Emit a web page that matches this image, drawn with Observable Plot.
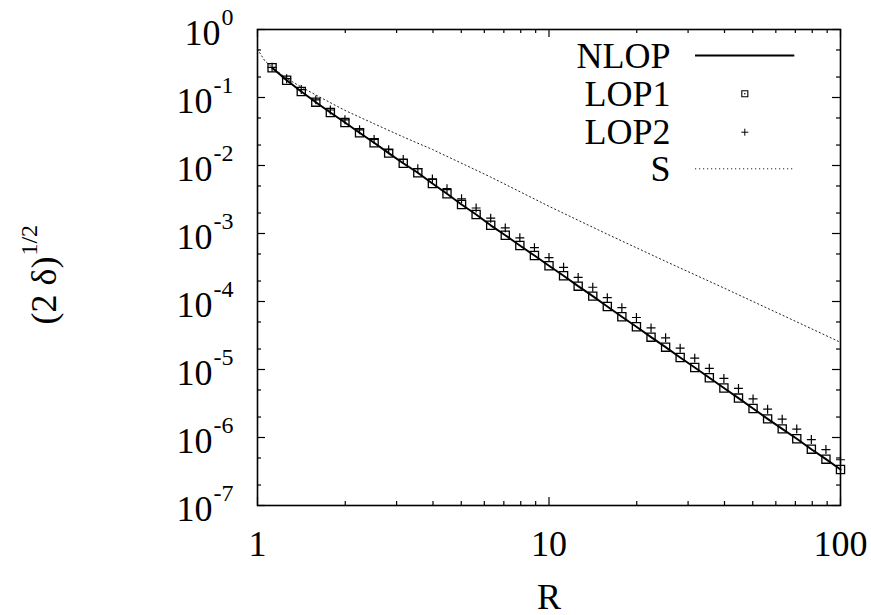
<!DOCTYPE html>
<html>
<head>
<meta charset="utf-8">
<script src="https://cdn.jsdelivr.net/npm/d3@7"></script>
<script src="https://cdn.jsdelivr.net/npm/@observablehq/plot@0.6"></script>
<style>
  html, body { margin: 0; padding: 0; background: #fff; }
  svg { display: block; }
  svg text { font-family: "Liberation Serif", "Tinos", "Nimbus Roman", "FreeSerif", "DejaVu Serif", "Noto Serif", serif !important; }
</style>
</head>
<body>
<div id="chart"></div>
<script>
// ---- data ----
const R = [1.122, 1.259, 1.413, 1.585, 1.778, 1.995, 2.239, 2.512, 2.818, 3.162,
           3.548, 3.981, 4.467, 5.012, 5.623, 6.310, 7.079, 7.943, 8.913, 10,
           11.22, 12.59, 14.13, 15.85, 17.78, 19.95, 22.39, 25.12, 28.18, 31.62,
           35.48, 39.81, 44.67, 50.12, 56.23, 63.10, 70.79, 79.43, 89.13, 100];
const NLOP = [0.2735, 0.1795, 0.1225, 0.0853, 0.0601, 0.0429, 0.0303, 0.0216, 0.0152, 0.0108,
              0.00782, 0.00543, 0.00384, 0.00267, 0.00190, 0.00132, 9.44e-4, 6.67e-4, 4.74e-4, 3.35e-4,
              2.39e-4, 1.68e-4, 1.20e-4, 8.43e-5, 5.96e-5, 4.25e-5, 2.99e-5, 2.13e-5, 1.50e-5, 1.07e-5,
              7.55e-6, 5.35e-6, 3.80e-6, 2.67e-6, 1.88e-6, 1.34e-6, 9.57e-7, 6.73e-7, 4.80e-7, 3.38e-7];
const LOP1 = [0.2735, 0.1795, 0.1225, 0.0853, 0.0601, 0.0429, 0.0303, 0.0216, 0.0152, 0.0108,
              0.00782, 0.00543, 0.00384, 0.00267, 0.00190, 0.00132, 9.44e-4, 6.67e-4, 4.74e-4, 3.35e-4,
              2.39e-4, 1.68e-4, 1.20e-4, 8.43e-5, 5.96e-5, 4.25e-5, 2.99e-5, 2.13e-5, 1.50e-5, 1.07e-5,
              7.55e-6, 5.35e-6, 3.80e-6, 2.67e-6, 1.88e-6, 1.34e-6, 9.57e-7, 6.73e-7, 4.80e-7, 3.38e-7];
const LOP2 = [0.278, 0.189, 0.131, 0.0923, 0.0655, 0.0470, 0.0335, 0.0242, 0.0171, 0.01225,
              0.00897, 0.00635, 0.00456, 0.00324, 0.00237, 0.00168, 0.00121, 8.63e-4, 6.19e-4, 4.43e-4,
              3.18e-4, 2.26e-4, 1.62e-4, 1.14e-4, 8.11e-5, 5.82e-5, 4.09e-5, 2.92e-5, 2.06e-5, 1.47e-5,
              1.04e-5, 7.40e-6, 5.26e-6, 3.69e-6, 2.61e-6, 1.86e-6, 1.33e-6, 9.33e-7, 6.65e-7, 4.71e-7];
const S_R = [1, 1.059, 1.122, 1.259, 1.413, 1.585, 1.995, 2.512, 3.162, 3.981,
             6.310, 10, 15.85, 25.12, 39.81, 63.10, 100];
const S = [0.513, 0.347, 0.279, 0.190, 0.143, 0.109, 0.0646, 0.0411, 0.0263, 0.0172,
           0.00676, 0.00251, 9.77e-4, 3.89e-4, 1.58e-4, 6.31e-5, 2.51e-5];

const xTickValues = [1, 10, 100];
const xTickLabels = ["1", "10", "100"];
const xMinorTicks = [2, 3, 4, 5, 6, 7, 8, 9, 20, 30, 40, 50, 60, 70, 80, 90];
const yTickValues = [1, 1e-1, 1e-2, 1e-3, 1e-4, 1e-5, 1e-6, 1e-7];
const yTickExponents = ["0", "-1", "-2", "-3", "-4", "-5", "-6", "-7"];
const yMinorTicks = [0.5, 0.2, 0.05, 0.02, 5e-3, 2e-3, 5e-4, 2e-4, 5e-5, 2e-5, 5e-6, 2e-6, 5e-7, 2e-7];
const legendLabels = ["NLOP", "LOP1", "LOP2", "S"];
const xLabel = "R";
const yLabelMain = "(2 δ)";
const yLabelSup = "1/2";

// ---- layout ----
const W = 871, H = 615;
const mL = 257, mR = 31, mT = 29, mB = 110;
const fw = W - mL - mR, fh = H - mT - mB;
const FF = "'Liberation Serif', 'Tinos', 'Nimbus Roman', 'FreeSerif', 'DejaVu Serif', serif";
const FS = 36, SUP = 24;

const ctx = document.createElement("canvas").getContext("2d");
function textW(s, size) { ctx.font = `${size}px ${FF}`; return ctx.measureText(s).width; }

const nlop = R.map((r, i) => ({r, v: NLOP[i]}));
const lop1 = R.map((r, i) => ({r, v: LOP1[i]}));
const lop2 = R.map((r, i) => ({r, v: LOP2[i]}));
const sdat = S_R.map((r, i) => ({r, v: S[i]}));
const xt = xTickValues.map((v, i) => ({v, label: xTickLabels[i]}));
const yt = yTickValues.map((v, i) => ({v, e: yTickExponents[i]}));

const MAJ = 8, MIN = 4;
const marks = [];

// ticks (inward, all four sides)
marks.push(Plot.tickX(xTickValues, {x: d => d, insetTop: fh - MAJ, stroke: "black", strokeWidth: 1.2}));
marks.push(Plot.tickX(xTickValues, {x: d => d, insetBottom: fh - MAJ, stroke: "black", strokeWidth: 1.2}));
marks.push(Plot.tickX(xMinorTicks, {x: d => d, insetTop: fh - MIN, stroke: "black", strokeWidth: 1.2}));
marks.push(Plot.tickX(xMinorTicks, {x: d => d, insetBottom: fh - MIN, stroke: "black", strokeWidth: 1.2}));
marks.push(Plot.tickY(yTickValues, {y: d => d, insetRight: fw - MAJ, stroke: "black", strokeWidth: 1.2}));
marks.push(Plot.tickY(yTickValues, {y: d => d, insetLeft: fw - MAJ, stroke: "black", strokeWidth: 1.2}));
marks.push(Plot.tickY(yMinorTicks, {y: d => d, insetRight: fw - MIN, stroke: "black", strokeWidth: 1.2}));
marks.push(Plot.tickY(yMinorTicks, {y: d => d, insetLeft: fw - MIN, stroke: "black", strokeWidth: 1.2}));

// series
marks.push(Plot.line(sdat, {x: "r", y: "v", stroke: "#222", strokeWidth: 1, strokeDasharray: "1.2,2.8"}));
marks.push(Plot.line(nlop, {x: "r", y: "v", stroke: "black", strokeWidth: 2}));
marks.push(Plot.dot(lop1, {x: "r", y: "v", symbol: "square", r: 4.6, stroke: "black", strokeWidth: 1.3, fill: "none"}));
marks.push(Plot.dot(lop2, {x: "r", y: "v", symbol: "plus", r: 3, stroke: "black", strokeWidth: 1.2}));

// frame
marks.push(Plot.frame({stroke: "black", strokeWidth: 1.6}));

// x tick labels
marks.push(Plot.text(xt, {x: "v", frameAnchor: "bottom", text: "label", dy: 50, lineAnchor: "bottom", fontSize: FS, fontFamily: FF, fill: "black"}));
// y tick labels: "10" + superscript exponent, right-justified
const yRight = -24;
yt.forEach(t => {
  const ew = textW(t.e, SUP);
  marks.push(Plot.text([t], {y: "v", frameAnchor: "left", text: () => "10", textAnchor: "end",
    dx: yRight - ew - 1, dy: 15, lineAnchor: "bottom", fontSize: FS, fontFamily: FF, fill: "black"}));
  marks.push(Plot.text([t], {y: "v", frameAnchor: "left", text: "e", textAnchor: "end",
    dx: yRight, dy: -5, lineAnchor: "bottom", fontSize: SUP, fontFamily: FF, fill: "black"}));
});

// axis labels
marks.push(Plot.text([xLabel], {frameAnchor: "bottom", text: d => d, dy: 103, lineAnchor: "bottom", fontSize: FS, fontFamily: FF, fill: "black"}));
const mainW = textW(yLabelMain, FS);
const yStart = 324 - (mT + fh / 2);
marks.push(Plot.text([yLabelMain], {frameAnchor: "left", text: d => d, rotate: -90, textAnchor: "start",
  dx: 55 - mL, dy: yStart, lineAnchor: "bottom", fontSize: FS, fontFamily: FF, fill: "black"}));
marks.push(Plot.text([yLabelSup], {frameAnchor: "left", text: d => d, rotate: -90, textAnchor: "start",
  dx: 55 - 19 - mL, dy: yStart - mainW - 1, lineAnchor: "bottom", fontSize: SUP, fontFamily: FF, fill: "black"}));

// legend
const rowC = [55, 93.3, 131.7, 168.3];
const textRight = 670 - (mL + fw);
const symX = 744.3 - (mL + fw);
legendLabels.forEach((lab, i) => {
  marks.push(Plot.text([lab], {frameAnchor: "top-right", text: d => d, textAnchor: "end",
    dx: textRight, dy: rowC[i] + 12 - mT, lineAnchor: "bottom", fontSize: FS, fontFamily: FF, fill: "black"}));
});
const sampleL = 695 - mL, sampleR = (mL + fw) - 794.3;
marks.push(Plot.tickY([yTickValues[0]], {y: d => d, dy: rowC[0] - mT, insetLeft: sampleL, insetRight: sampleR, stroke: "black", strokeWidth: 2}));
marks.push(Plot.dot([legendLabels[1]], {frameAnchor: "top-right", dx: symX, dy: rowC[1] - mT, symbol: "square", r: 3.4, stroke: "black", strokeWidth: 1.1, fill: "none"}));
marks.push(Plot.dot([legendLabels[1]], {frameAnchor: "top-right", dx: symX, dy: rowC[1] - mT, r: 0.8, fill: "black"}));
marks.push(Plot.dot([legendLabels[2]], {frameAnchor: "top-right", dx: symX, dy: rowC[2] - mT, symbol: "plus", r: 2.4, stroke: "black", strokeWidth: 1}));
marks.push(Plot.tickY([yTickValues[0]], {y: d => d, dy: rowC[3] - mT, insetLeft: sampleL, insetRight: sampleR, stroke: "#222", strokeWidth: 1, strokeDasharray: "1.2,2.8"}));

const chart = Plot.plot({
  width: W, height: H,
  marginLeft: mL, marginRight: mR, marginTop: mT, marginBottom: mB,
  x: {type: "log", domain: [1, 100], axis: null},
  y: {type: "log", domain: [1e-7, 1], axis: null},
  style: {fontFamily: FF, fontSize: FS + "px", background: "white", color: "black", overflow: "visible"},
  marks
});
document.getElementById("chart").appendChild(chart);
</script>
</body>
</html>
